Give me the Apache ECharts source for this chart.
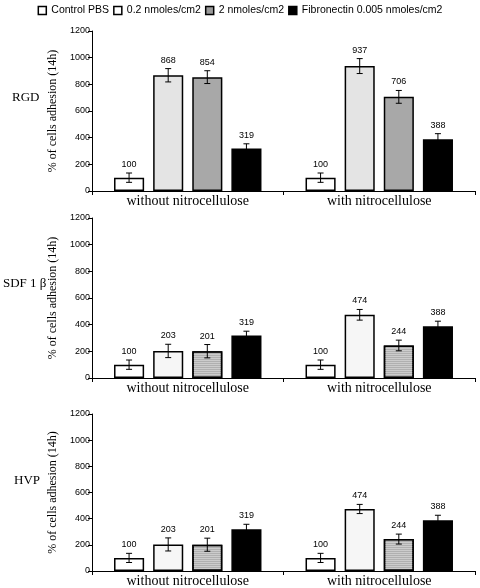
<!DOCTYPE html>
<html><head><meta charset="utf-8">
<script src="https://cdn.jsdelivr.net/npm/echarts@6/dist/echarts.min.js"></script>
<style>html,body{margin:0;padding:0;background:#fff}#c{width:480px;height:588px}</style>
</head><body><div id="c"></div>
<script>
var categories = ['without nitrocellulose', 'with nitrocellulose'];
var seriesNames = ['Control PBS', '0.2 nmoles/cm2', '2 nmoles/cm2', 'Fibronectin 0.005 nmoles/cm2'];
var panelNames = ['RGD', 'SDF 1 \u03b2', 'HVP'];
var yTicks = [0, 200, 400, 600, 800, 1000, 1200];

// values per panel: [control, 0.2, 2, fibronectin], each [without, with]
var rgdControl = [100, 100], rgd02 = [868, 937], rgd2 = [854, 706], rgdFn = [319, 388];
var rgdControlErr = [35, 35], rgd02Err = [50, 56], rgd2Err = [48, 48], rgdFnErr = [35, 42];
var sdfControl = [100, 100], sdf02 = [203, 474], sdf2 = [201, 244], sdfFn = [319, 388];
var sdfControlErr = [35, 35], sdf02Err = [50, 40], sdf2Err = [50, 40], sdfFnErr = [32, 38];
var hvpControl = [100, 100], hvp02 = [203, 474], hvp2 = [201, 244], hvpFn = [319, 388];
var hvpControlErr = [35, 35], hvp02Err = [50, 35], hvp2Err = [50, 38], hvpFn_Err = [38, 38];

var panels = [
  {vals: [rgdControl, rgd02, rgd2, rgdFn], errs: [rgdControlErr, rgd02Err, rgd2Err, rgdFnErr],
   colors: ['#ffffff', '#e4e4e4', '#a8a8a8', '#000000'], top: 31, bottom: 191},
  {vals: [sdfControl, sdf02, sdf2, sdfFn], errs: [sdfControlErr, sdf02Err, sdf2Err, sdfFnErr],
   colors: ['#ffffff', '#f6f6f6', '#b0b0b0', '#000000'], top: 218, bottom: 378},
  {vals: [hvpControl, hvp02, hvp2, hvpFn], errs: [hvpControlErr, hvp02Err, hvp2Err, hvpFn_Err],
   colors: ['#ffffff', '#f6f6f6', '#b0b0b0', '#000000'], top: 414, bottom: 573}
];
var legendColors = ['#ffffff', '#ffffff', '#9a9a9a', '#000000'];
var panelLabelY = [99, 285, 482];
var panelLabelX = [12, 3, 14];

var SERIF = "'Liberation Serif', 'Times New Roman', serif";
var SANS = "'Liberation Sans', Arial, sans-serif";
var CAT_GAP = 0.23, BAR_GAP = 0.3, N = 4;

var grids = [], xAxes = [], yAxes = [], series = [], graphics = [];
panels.forEach(function (p, gi) {
  grids.push({left: 92, right: 5, top: p.top, height: p.bottom - p.top});
  xAxes.push({type: 'category', gridIndex: gi, data: categories,
    axisLine: {lineStyle: {color: '#000', width: 1}},
    axisTick: {show: true, alignWithLabel: false, length: 4, lineStyle: {color: '#000'}},
    axisLabel: {color: '#000', fontFamily: SERIF, fontSize: 14, margin: 3}});
  yAxes.push({type: 'value', gridIndex: gi, min: 0, max: 1200, interval: 200,
    name: '% of cells adhesion (14h)', nameLocation: 'middle', nameGap: 32,
    nameTextStyle: {fontFamily: SERIF, fontSize: 12, color: '#000'},
    splitLine: {show: false},
    axisLine: {show: true, lineStyle: {color: '#000', width: 1}},
    axisTick: {show: true, length: 4, lineStyle: {color: '#000'}},
    axisLabel: {color: '#000', fontFamily: SANS, fontSize: 9, margin: 2,
      formatter: function (v) { return String(v); }}});
  var custData = [];
  for (var s = 0; s < N; s++) {
    var st = {color: p.colors[s], borderColor: '#000', borderWidth: 1.5};
    if (gi > 0 && s === 2) {
      st.decal = {symbol: 'rect', symbolSize: 1, dashArrayX: [1, 0], dashArrayY: [1, 1], color: 'rgba(255,255,255,0.35)'};
    }
    series.push({type: 'bar', name: seriesNames[s], xAxisIndex: gi, yAxisIndex: gi,
      data: p.vals[s], barCategoryGap: (CAT_GAP * 100) + '%', barGap: (BAR_GAP * 100) + '%',
      itemStyle: st, emphasis: {disabled: true}, animation: false});
    for (var c = 0; c < categories.length; c++) {
      custData.push([c, s, p.vals[s][c], p.errs[s][c]]);
    }
  }
  series.push({type: 'custom', xAxisIndex: gi, yAxisIndex: gi, data: custData,
    encode: {x: 0, y: 2}, animation: false, silent: true, z: 10,
    renderItem: function (params, api) {
      var c = api.value(0), s = api.value(1), v = api.value(2), e = api.value(3);
      var band = api.size([1, 0])[0];
      var usable = band * (1 - CAT_GAP);
      var bw = usable / (N + (N - 1) * BAR_GAP);
      var center = api.coord([c, 0])[0];
      var x = center - usable / 2 + bw / 2 + s * bw * (1 + BAR_GAP);
      var yTop = api.coord([c, v + e])[1];
      var yBot = api.coord([c, v - e])[1];
      var w = 3;
      var ls = {stroke: '#000', lineWidth: 1};
      return {type: 'group', children: [
        {type: 'line', shape: {x1: x, y1: yTop, x2: x, y2: yBot}, style: ls},
        {type: 'line', shape: {x1: x - w, y1: yTop, x2: x + w, y2: yTop}, style: ls},
        {type: 'line', shape: {x1: x - w, y1: yBot, x2: x + w, y2: yBot}, style: ls},
        {type: 'text', style: {text: String(v), x: x, y: yTop - 4, align: 'center', verticalAlign: 'bottom',
          fontFamily: SANS, fontSize: 9, fill: '#000'}}
      ]};
    }});
  graphics.push({type: 'text', left: panelLabelX[gi], top: panelLabelY[gi] - 8,
    style: {text: panelNames[gi], fontFamily: SERIF, fontSize: 13, fill: '#000'}});
});

var chart = echarts.init(document.getElementById('c'), null, {renderer: 'canvas'});
chart.setOption({
  backgroundColor: '#fff',
  animation: false,
  legend: {top: 0, left: 'center', itemWidth: 8, itemHeight: 8, itemGap: 4, selectedMode: false,
    textStyle: {fontFamily: SANS, fontSize: 10.5, color: '#000'},
    data: seriesNames.map(function (n, i) {
      return {name: n, icon: 'rect', itemStyle: {color: legendColors[i], borderColor: '#000', borderWidth: 1.5, decal: 'none'}};
    })},
  grid: grids, xAxis: xAxes, yAxis: yAxes, series: series, graphic: graphics
});
</script></body></html>
